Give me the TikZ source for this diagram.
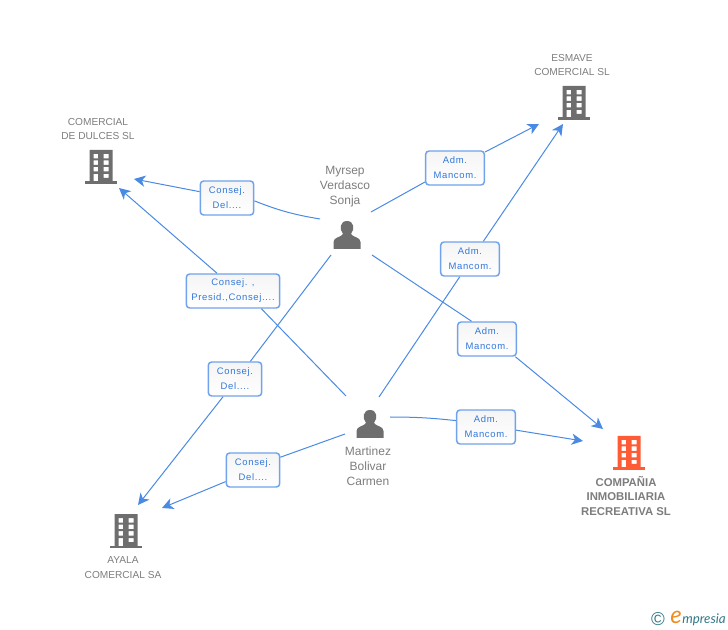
\documentclass[tikz,border=0pt]{standalone}
\usepackage{fontspec}
\setmainfont{Liberation Sans}
\newfontfamily\boxfont[LetterSpace=7]{Liberation Sans}
\newfontfamily\logofont{Lato}
\usetikzlibrary{arrows.meta}
\definecolor{linkblue}{RGB}{74,138,228}
\definecolor{boxborder}{RGB}{112,163,235}
\definecolor{boxtext}{RGB}{50,120,220}
\definecolor{icongray}{RGB}{110,110,110}
\definecolor{textgray}{RGB}{125,125,125}
\definecolor{mainorange}{RGB}{255,92,53}
\definecolor{logoteal}{RGB}{50,120,135}
\definecolor{logoorange}{RGB}{240,140,30}
\tikzset{
    role/.style={draw=boxborder, line width=1.1pt, rounded corners=2.5pt, top color=black!4, bottom color=white,
                 text=boxtext, font=\boxfont\fontsize{7.1pt}{11.2pt}\selectfont, align=center,
                 minimum height=25.5pt, inner sep=0pt},
    entity/.style={text=textgray, font=\fontsize{7.6pt}{11.2pt}\selectfont, align=center, inner sep=0pt},
    someone/.style={entity, font=\fontsize{9pt}{11.2pt}\selectfont},
    link/.style={linkblue, line width=.75pt},
    linkto/.style={link, -{Stealth[length=8.5pt, width=8.5pt, inset=2.5pt]}},
    building/.pic={
        % body with windows cut out, origin at the middle of the base
        \fill[#1, even odd rule]
            (-11.5,-34) rectangle (11.5,-1)
            (-7.5,-30) rectangle (-3,-25.5) (2.5,-30) rectangle (7.5,-25.5)
            (-7.5,-23.5) rectangle (-3,-19) (2.5,-23.5) rectangle (7.5,-19)
            (-7.5,-17) rectangle (-3,-12.5) (2.5,-17) rectangle (7.5,-12.5)
            (-7.5,-10) rectangle (-3,-1) (2.5,-10) rectangle (7.5,-6);
        \fill[#1] (-16,-2.5) rectangle (16,0);
    },
    person/.pic={
        \fill[icongray] (-13.5,14) -- (13.5,14) -- (13.5,7) .. controls (13.5,2) and (6,2.5) .. (4,-1)
            .. controls (8,-6) and (7,-14) .. (0,-14) .. controls (-7,-14) and (-8,-6) .. (-4,-1)
            .. controls (-6,2.5) and (-13.5,2) .. (-13.5,7) -- cycle;
    }
}
\begin{document}
\begin{tikzpicture}[x=.75pt, y=-.75pt]
    \useasboundingbox (0,0) rectangle (728,630);

    % companies
    \pic at (101,184) {building=icongray};
    \pic at (574,120) {building=icongray};
    \pic at (126,548) {building=icongray};
    \pic at (629,470) {building=mainorange};
    \node[entity] (dulces) at (98,129) {COMERCIAL\\DE DULCES SL};
    \node[entity] (esmave) at (572,65) {ESMAVE\\COMERCIAL SL};
    \node[entity] (ayala) at (123,568) {AYALA\\COMERCIAL SA};
    \node[entity, font=\bfseries\fontsize{8.5pt}{11.2pt}\selectfont] (compania) at (626,496) {COMPAÑIA\\INMOBILIARIA\\RECREATIVA SL};

    % people
    \pic at (347,235) {person};
    \pic at (370,424) {person};
    \node[someone] (myrsep) at (345,187) {Myrsep\\Verdasco\\Sonja};
    \node[someone] (martinez) at (368,466) {Martinez\\Bolivar\\Carmen};

    % roles
    \node[role, minimum width=40pt] (r-dulces1) at (227,198) {Consej.\\Del....};
    \node[role, minimum width=70pt] (r-dulces2) at (233,291) {Consej. ,\\Presid.,Consej....};
    \node[role, minimum width=44pt] (r-esmave1) at (455,168) {Adm.\\Mancom.};
    \node[role, minimum width=44pt] (r-esmave2) at (470,259) {Adm.\\Mancom.};
    \node[role, minimum width=44pt] (r-comp1) at (487,339) {Adm.\\Mancom.};
    \node[role, minimum width=44pt] (r-comp2) at (486,427) {Adm.\\Mancom.};
    \node[role, minimum width=40pt] (r-ayala1) at (235,379) {Consej.\\Del....};
    \node[role, minimum width=40pt] (r-ayala2) at (253,470) {Consej.\\Del....};

    % free ends of the connectors
    \coordinate (my-w) at (320,219);
    \coordinate (my-ne) at (371,212);
    \coordinate (my-se) at (372,255);
    \coordinate (my-sw) at (331,255);
    \coordinate (ma-nw) at (346,396);
    \coordinate (ma-ne) at (379,397);
    \coordinate (ma-e) at (390,417);
    \coordinate (ma-w) at (345,434);
    \coordinate (dulces-a) at (134,179);
    \coordinate (dulces-b) at (119,188);
    \coordinate (esmave-a) at (539,124);
    \coordinate (esmave-b) at (563,124);
    \coordinate (comp-a) at (603,429);
    \coordinate (comp-b) at (583,441);
    \coordinate (ayala-a) at (138,505);
    \coordinate (ayala-b) at (162,508);

    \draw[link] (my-w) to[bend left=6] (r-dulces1.-6);
    \draw[linkto] (r-dulces1.167) -- (dulces-a);
    \draw[link] (ma-nw) -- (r-dulces2.-32);
    \draw[linkto] (r-dulces2.132) -- (dulces-b);
    \draw[link] (my-ne) -- (r-esmave1.205);
    \draw[linkto] (r-esmave1.28) -- (esmave-a);
    \draw[link] (ma-ne) -- (r-esmave2.240);
    \draw[linkto] (r-esmave2.53) -- (esmave-b);
    \draw[link] (my-se) -- (r-comp1.131);
    \draw[linkto] (r-comp1.-32) -- (comp-a);
    \draw[link] (ma-e) to[bend left=3] (r-comp2.168);
    \draw[linkto] (r-comp2.-6) -- (comp-b);
    \draw[link] (my-sw) -- (r-ayala1.49);
    \draw[linkto] (r-ayala1.236) -- (ayala-a);
    \draw[link] (ma-w) -- (r-ayala2.25);
    \draw[linkto] (r-ayala2.203) -- (ayala-b);

    % logo
    \node[inner sep=0pt, text=logoteal, font=\fontsize{14pt}{14pt}\selectfont] (copy) at (658,619) {©};
    \node[inner sep=0pt, anchor=base west, text=logoteal, font=\logofont\itshape\fontsize{10pt}{10pt}\selectfont] (logo) at (682,623) {mpresia};
    \node[inner sep=0pt, anchor=base east, text=logoorange, font=\logofont\itshape\fontsize{18pt}{18pt}\selectfont] (logo-e) at (logo.base west) {e};
\end{tikzpicture}
\end{document}
